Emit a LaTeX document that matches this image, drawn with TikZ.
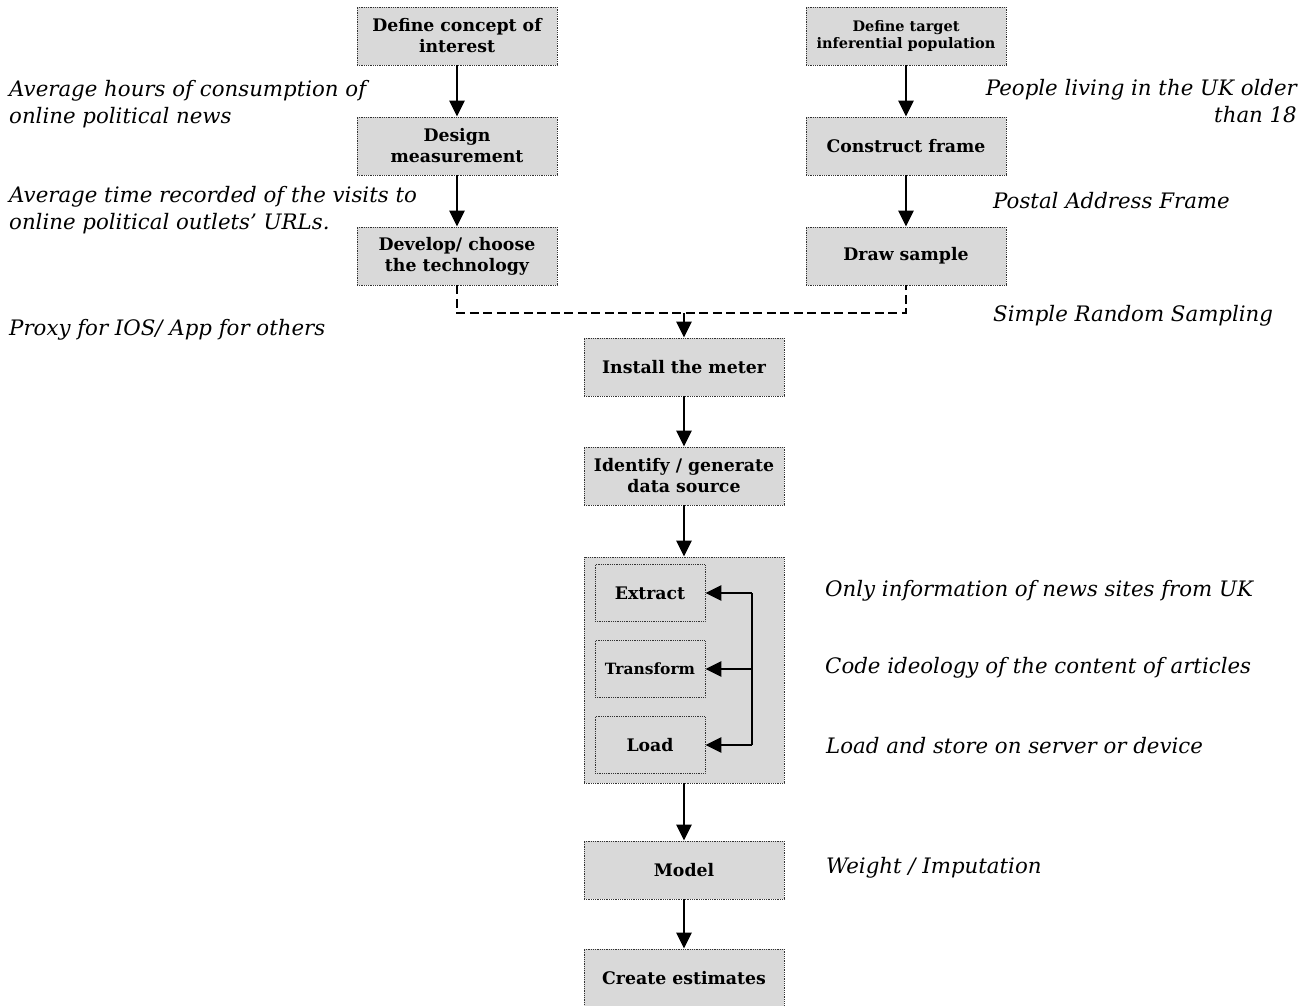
\documentclass[tikz,border=0pt]{standalone}
\usepackage{fontspec}
\setmainfont{DejaVu Serif}
\usetikzlibrary{arrows.meta}
\definecolor{boxgray}{HTML}{D9D9D9}
\begin{document}
\begin{tikzpicture}[x=1pt,y=-1pt,
  stage/.style={draw=black!80, densely dotted, line width=0.8pt, fill=boxgray,
    minimum width=200pt, minimum height=58pt, align=center, inner sep=2pt,
    font=\bfseries\fontsize{17.3}{21}\selectfont},
  substage/.style={draw=black!80, densely dotted, line width=0.8pt, fill=boxgray,
    minimum width=110pt, minimum height=57pt, align=center, inner sep=2pt,
    font=\bfseries\fontsize{17.3}{21}\selectfont},
  note/.style={anchor=west, align=left, inner sep=0pt,
    font=\itshape\fontsize{21.3}{27}\selectfont},
  flow/.style={line width=2.8pt, -{Triangle[length=16pt,width=15pt]}},
  link/.style={line width=2.8pt, dash pattern=on 9pt off 4.5pt},
]
\useasboundingbox (0,0) rectangle (1301,1006);

% left branch: concept and measurement
\node[stage] (concept) at (457,36) {Define concept of\\interest};
\node[stage] (measure) at (457,146) {Design\\measurement};
\node[stage] (tech) at (457,256) {Develop/ choose\\the technology};

% right branch: population and sampling
\node[stage, font=\bfseries\fontsize{14.5}{17.5}\selectfont] (target) at (906,36) {Define target\\inferential population};
\node[stage] (frame) at (906,146) {Construct frame};
\node[stage] (sample) at (906,256) {Draw sample};

% central pipeline
\node[stage] (install) at (684,367) {Install the meter};
\node[stage] (source) at (684,476) {Identify / generate\\data source};
\node[stage, minimum height=226pt] (etl) at (684,670) {};
\node[substage] (extract) at (650,593) {Extract};
\node[substage, font=\bfseries\fontsize{15.5}{19}\selectfont] (transform) at (650,669) {Transform};
\node[substage] (load) at (650,745) {Load};
\node[stage] (model) at (684,870) {Model};
\node[stage] (estimates) at (684,978) {Create estimates};

% connectors
\draw[flow] (concept) -- (measure);
\draw[flow] (measure) -- (tech);
\draw[flow] (target) -- (frame);
\draw[flow] (frame) -- (sample);
\coordinate (join) at (684,313);
\draw[link] (tech.south) |- (join) -| (sample.south);
\draw[flow] (join) -- (install);
\draw[flow] (install) -- (source);
\draw[flow] (source) -- (etl);
\draw[flow] (etl) -- (model);
\draw[flow] (model) -- (estimates);

% feedback bus inside the ETL block
\coordinate (bustop) at (752,593);
\coordinate (busbot) at (752,745);
\draw[line width=2.8pt] (bustop) -- (busbot);
\draw[flow] (bustop) -- (extract.east);
\draw[flow] (752,669) -- (transform.east);
\draw[flow] (busbot) -- (load.east);

% annotations
\node[note] (n1) at (9,104) {Average hours of consumption of\\online political news};
\node[note] (n2) at (9,210) {Average time recorded of the visits to\\online political outlets’ URLs.};
\node[note] (n3) at (9,330) {Proxy for IOS/ App for others};
\node[note, anchor=east, align=right] (n4) at (1297,101) {People living in the UK older\\than 18};
\node[note] (n5) at (993,201) {Postal Address Frame};
\node[note] (n6) at (993,316) {Simple Random Sampling};
\node[note] (n7) at (825,591) {Only information of news sites from UK};
\node[note] (n8) at (825,668) {Code ideology of the content of articles};
\node[note] (n9) at (826,746) {Load and store on server or device};
\node[note] (n10) at (826,868) {Weight / Imputation};
\end{tikzpicture}
\end{document}
